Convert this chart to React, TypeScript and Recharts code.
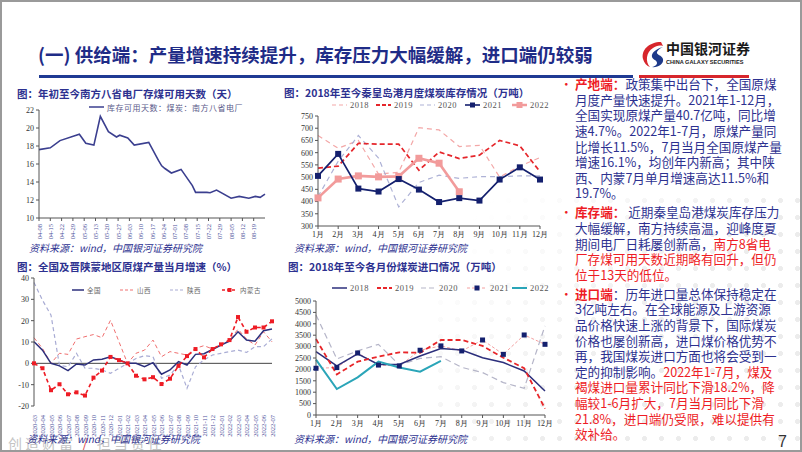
import React from "react";
import { LineChart, Line, XAxis, YAxis, ReferenceLine } from "recharts";

const CJK = '"Noto Sans CJK SC", "Noto Sans", sans-serif';
const SERIF = '"Liberation Serif", "DejaVu Serif", serif';
const NAVY = "#2d3190";
const RED = "#ee1c25";

// 图1：南方八省电厂存煤可用天数（天），x = 距 04-08 的天数
const stockDayOffsets = [0, 7, 13, 25, 29, 34, 38, 43, 48, 50, 55, 59, 68, 74, 76, 78, 82, 88, 95, 97, 104, 106, 110, 119, 124, 130, 134, 137, 140];
const stockDays = [17.6, 17.8, 18.6, 19.3, 18.3, 18.1, 21.3, 19.6, 19.0, 19.2, 18.9, 18.1, 18.4, 16.4, 15.8, 15.5, 15.0, 15.4, 13.6, 12.85, 12.85, 12.8, 13.1, 12.2, 12.4, 12.2, 12.4, 12.3, 12.65];
const stockTickLabels = ["04-08", "04-15", "04-22", "04-29", "05-06", "05-13", "05-20", "05-27", "06-03", "06-10", "06-17", "06-24", "07-01", "07-08", "07-15", "07-22", "07-29", "08-05", "08-12", "08-19"];
const stockYTicks = [10, 12, 14, 16, 18, 20, 22];

// 图2：秦皇岛港月度煤炭库存（万吨）
const months = ["1月", "2月", "3月", "4月", "5月", "6月", "7月", "8月", "9月", "10月", "11月", "12月"];
const qhd2018 = [670, 618, 650, 512, 520, 702, 693, 625, 630, 500, 545, 580];
const qhd2019 = [537, 545, 638, 635, 635, 528, 603, 576, 590, 650, 628, 522];
const qhd2020 = [420, 565, 670, 578, 378, 478, 508, 495, 502, 502, 505, 505];
const qhd2021 = [505, 595, 453, 441, 492, 449, 398, 414, 404, 490, 540, 490];
const qhd2022 = [415, 492, 505, 501, 503, 577, 557, 440];
const qhdYTicks = [300, 350, 400, 450, 500, 550, 600, 650, 700, 750];

// 图3：原煤产量当月同比（%）
const prodMonths = ["2020-03", "2020-04", "2020-05", "2020-06", "2020-07", "2020-08", "2020-09", "2020-10", "2020-11", "2020-12", "2021-01", "2021-02", "2021-03", "2021-04", "2021-05", "2021-06", "2021-07", "2021-08", "2021-09", "2021-10", "2021-11", "2021-12", "2022-01", "2022-02", "2022-03", "2022-04", "2022-05", "2022-06", "2022-07"];
const prodNational = [10.1, 6.2, 0, -1.2, -3.4, -0.3, -0.8, 1.6, 1.9, 3.1, 1.6, 0, 0, -1.6, 0.3, -5.1, -3.1, 0.8, -0.8, 4.2, 4.5, 6.5, 8.6, 10.4, 14.8, 10.9, 10.4, 15.3, 16.1];
const prodShanxi = [12, 7, 0, 4.7, 4.2, 11.4, 12.5, 13.5, 12, 20.2, 10.1, 0, 4.7, 6.2, 10.9, 3.1, 5.5, 4.7, 3.9, 7, 8.3, 6.7, 8.6, 10.9, 16, 11.4, 8.6, 14.8, 10.1];
const prodShaanxi = [37.9, 29.6, 22.6, -1, -1.6, 4.7, -2.3, -2.3, -3.1, -4.7, -2.3, 0, 2.3, 3.6, 3.1, -7, -5.5, -0.8, -11.7, -1.6, 1.6, 3.9, 4.7, 5.5, 6.2, 5.1, 7.8, 7.8, 11.5];
const prodNeimeng = [0, -2.3, -12.6, -9.8, -14.5, -13.6, -15.1, -6.7, -3.4, 3, 1.5, 0, -5.8, -7.5, -6.5, -9.7, -7.2, -1.2, 3.4, 6.7, 2.8, 6.7, 8.9, 10.9, 21.7, 14.8, 16.8, 16.8, 19.7];
const prodYTicks = [-20, -10, 0, 10, 20, 30, 40];

// 图4：各月份煤炭进口（万吨）
const imp2018 = [2780, 2150, 2680, 2220, 2220, 2590, 2920, 2850, 2510, 2300, 1930, 1050];
const imp2019 = [3330, 1780, 2340, 2560, 2750, 2730, 3290, 3290, 3030, 2510, 2050, 280];
const imp2020 = [4390, 2460, 2810, 3100, 2190, 2480, 2560, 2090, 1860, 1420, 1170, 3910];
const imp2021 = [2050, 2080, 2720, 2190, 2150, 2840, 3030, 2810, 3290, 2660, 3510, 3100];
const imp2022 = [2430, 1140, 1650, 2340, 2080, 1900, 2370];
const impYTicks = [0, 500, 1000, 1500, 2000, 2500, 3000, 3500, 4000, 4500, 5000];

const stockData = stockDayOffsets.map((d, i) => ({ d, v: stockDays[i] }));
const qhdData = months.map((m, i) => ({
  m, a: qhd2018[i], b: qhd2019[i], c: qhd2020[i], d: qhd2021[i], e: qhd2022[i] ?? null,
}));
const prodData = prodMonths.map((m, i) => ({
  m, nat: prodNational[i], sx: prodShanxi[i], snx: prodShaanxi[i], nm: prodNeimeng[i],
}));
const impData = months.map((m, i) => ({
  m, a: imp2018[i], b: imp2019[i], c: imp2020[i], d: imp2021[i], e: imp2022[i] ?? null,
}));

const tickStyle = { fontSize: 8, fill: "#333", fontFamily: SERIF };

const squareDot = (size: number, fill: string) => (props: any) => {
  const { cx, cy, index, value } = props;
  if (cx == null || cy == null || value == null) return <g key={index} />;
  return <rect key={index} x={cx - size / 2} y={cy - size / 2} width={size} height={size} fill={fill} />;
};

const VTick = (labelOf: (v: any) => string) => (props: any) => {
  const { x, y, payload } = props;
  return (
    <text
      x={x} y={y + 1} transform={`rotate(-90 ${x} ${y + 1})`}
      textAnchor="end" dominantBaseline="central"
      fontSize={6.5} fill="#4b4f9a" fontFamily={SERIF}
    >
      {labelOf(payload.value)}
    </text>
  );
};

function LegendItem({ x, y, label, color, dash, width = 1.5, marker, len = 15, fontSize = 8.5, font = SERIF, textColor = "#555" }: any) {
  return (
    <div style={{ position: "absolute", left: x, top: y - 6, height: 12, display: "flex", alignItems: "center", whiteSpace: "nowrap" }}>
      <svg width={len} height={8} style={{ marginRight: 3 }}>
        <line x1={0} y1={4} x2={len} y2={4} stroke={color} strokeWidth={width} strokeDasharray={dash} />
        {marker && <rect x={len / 2 - marker.size / 2} y={4 - marker.size / 2} width={marker.size} height={marker.size} fill={marker.fill} />}
      </svg>
      <span style={{ fontSize, fontFamily: font, color: textColor, letterSpacing: 0.5 }}>{label}</span>
    </div>
  );
}

function Title({ x, y, children }: any) {
  return (
    <div style={{ position: "absolute", left: x, top: y - 7, lineHeight: "14px", fontSize: 10.5, fontWeight: 700, color: NAVY, whiteSpace: "nowrap" }}>
      {children}
    </div>
  );
}

function Source({ x, y }: any) {
  return (
    <div style={{ position: "absolute", left: x, top: y - 7, lineHeight: "14px", fontSize: 10, fontStyle: "italic", color: NAVY, whiteSpace: "nowrap" }}>
      资料来源：wind，中国银河证券研究院
    </div>
  );
}

type Seg = { t: string; c?: "red" | "label" };

const paraSupply: Seg[][] = [
  [{ t: "产地端：", c: "label" }, { t: "政策集中出台下，全国原煤" }],
  [{ t: "月度产量快速提升。2021年1-12月，" }],
  [{ t: "全国实现原煤产量40.7亿吨，同比增" }],
  [{ t: "速4.7%。2022年1-7月，原煤产量同" }],
  [{ t: "比增长11.5%，7月当月全国原煤产量" }],
  [{ t: "增速16.1%，均创年内新高；其中陕" }],
  [{ t: "西、内蒙7月单月增速高达11.5%和" }],
  [{ t: "19.7%。" }],
];
const paraStock: Seg[][] = [
  [{ t: "库存端：", c: "label" }, { t: " 近期秦皇岛港煤炭库存压力" }],
  [{ t: "大幅缓解，南方持续高温，迎峰度夏" }],
  [{ t: "期间电厂日耗屡创新高，" }, { t: "南方8省电", c: "red" }],
  [{ t: "厂存煤可用天数近期略有回升，但仍", c: "red" }],
  [{ t: "位于13天的低位。", c: "red" }],
];
const paraImport: Seg[][] = [
  [{ t: "进口端", c: "label" }, { t: "：历年进口量总体保持稳定在" }],
  [{ t: "3亿吨左右。在全球能源及上游资源" }],
  [{ t: "品价格快速上涨的背景下，国际煤炭" }],
  [{ t: "价格也屡创新高，进口煤价格优势不" }],
  [{ t: "再，我国煤炭进口方面也将会受到一" }],
  [{ t: "定的抑制影响。" }, { t: "2022年1-7月，煤及", c: "red" }],
  [{ t: "褐煤进口量累计同比下滑18.2%，降", c: "red" }],
  [{ t: "幅较1-6月扩大，7月当月同比下滑", c: "red" }],
  [{ t: "21.8%，进口端仍受限，难以提供有", c: "red" }],
  [{ t: "效补给。", c: "red" }],
];

const LINE_H = 15.6;
const PARA_GAP = 19;

function Para({ lines, y }: { lines: Seg[][]; y: number }) {
  return (
    <div style={{ position: "absolute", left: 573, top: y - LINE_H / 2, fontSize: 12.6, lineHeight: `${LINE_H}px`, color: NAVY, whiteSpace: "nowrap" }}>
      <span style={{ position: "absolute", left: -15, top: 0, color: RED, fontSize: 12.6 }}>•</span>
      {lines.map((ln, i) => (
        <div key={i}>
          {ln.map((s, j) => (
            <span key={j} style={{ color: s.c ? RED : NAVY, fontWeight: s.c === "label" ? 700 : 400 }}>{s.t}</span>
          ))}
        </div>
      ))}
    </div>
  );
}

export default function App() {
  const y1 = 82;
  const y2 = y1 + (paraSupply.length - 1) * LINE_H + PARA_GAP;
  const y3 = y2 + (paraStock.length - 1) * LINE_H + PARA_GAP;
  return (
    <div style={{ position: "absolute", left: 0, top: 0, width: 802, height: 452, overflow: "hidden", background: "#fff", fontFamily: CJK, boxSizing: "border-box", border: "2px solid #9a9a9a" }}>
      {/* dotted background */}
      <div style={{
        position: "absolute", left: 430, top: 190, width: 372, height: 262,
        backgroundImage: "radial-gradient(circle, #ececec 2.2px, transparent 2.8px)",
        backgroundSize: "17px 17px",
        WebkitMaskImage: "linear-gradient(135deg, transparent 10%, #000 60%)",
        maskImage: "linear-gradient(135deg, transparent 10%, #000 60%)",
      }} />

      {/* header */}
      <div style={{ position: "absolute", left: 36, top: 40, lineHeight: "24px", fontSize: 18.5, fontWeight: 700, color: "#1f2c87", whiteSpace: "nowrap" }}>
        (一) 供给端：产量增速持续提升，库存压力大幅缓解，进口端仍较弱
      </div>
      <div style={{ position: "absolute", left: 37, top: 73, width: 594, height: 3, background: "#1f3a93" }} />
      <div style={{ position: "absolute", left: 637, top: 73, width: 110, height: 3, background: "#d7262c" }} />
      <svg style={{ position: "absolute", left: 638, top: 38 }} width={26} height={28} viewBox="0 0 26 28">
        <path d="M21 2 C9 2 1 10 3 19 C4 23 7 26 10 27 C5 22 6 12 13 8 C16 6 19 5 23 6 Z" fill="#d7262c" />
        <path d="M23 7 C16 9 11 13 12 17 C13 20 17 20 17 23 C17 25 14 27 11 27 C18 28 24 24 23 19 C22 15 16 15 17 12 C18 10 20 8 23 7 Z" fill="#1e3a8a" />
      </svg>
      <div style={{ position: "absolute", left: 664, top: 38, lineHeight: "17px", fontSize: 14, fontWeight: 700, color: "#1a1a1a", whiteSpace: "nowrap" }}>中国银河证券</div>
      <div style={{ position: "absolute", left: 664, top: 56, lineHeight: "8px", fontSize: 5.6, fontWeight: 700, fontFamily: '"Liberation Sans", sans-serif', color: "#1a1a1a", whiteSpace: "nowrap" }}>CHINA GALAXY SECURITIES</div>

      {/* chart 1 */}
      <Title x={15} y={92}>图：年初至今南方八省电厂存煤可用天数（天）</Title>
      <LegendItem x={87} y={105} label="库存可用天数：煤炭：南方八省电厂" color="#3b3f8f" width={1.5} len={15} fontSize={8} font={CJK} textColor="#5a5a8a" />
      <div style={{ position: "absolute", left: 0, top: 94 }}>
        <LineChart width={270} height={152} data={stockData} margin={{ top: 14, right: 7, left: 7, bottom: 0 }}>
          <XAxis
            type="number" dataKey="d" domain={[0, 140]}
            ticks={stockTickLabels.map((_, i) => i * 7)}
            interval={0} height={30} tickSize={3}
            stroke="#555" tick={VTick((v) => stockTickLabels[v / 7])}
          />
          <YAxis domain={[10, 22]} ticks={stockYTicks} width={30} tickSize={3} stroke="#555" tick={tickStyle} interval={0} />
          <Line type="linear" dataKey="v" stroke="#3b3f8f" strokeWidth={1.6} dot={false} activeDot={false} isAnimationActive={false} />
        </LineChart>
      </div>
      <Source x={27} y={246} />

      {/* chart 2 */}
      <Title x={282} y={91}>图：2018年至今秦皇岛港月度煤炭库存情况（万吨）</Title>
      <LegendItem x={330} y={103} label="2018" color="#f3a7a7" dash="4 3" width={1.2} />
      <LegendItem x={374} y={103} label="2019" color="#e5262b" dash="4 2" width={1.8} />
      <LegendItem x={418} y={103} label="2020" color="#aeb2d6" dash="4 3" width={1.2} />
      <LegendItem x={463} y={103} label="2021" color="#14206e" width={1.6} marker={{ size: 5, fill: "#14206e" }} />
      <LegendItem x={510} y={103} label="2022" color="#f29b9b" width={2.5} marker={{ size: 6, fill: "#f29b9b" }} />
      <div style={{ position: "absolute", left: 280, top: 100 }}>
        <LineChart width={270} height={140} data={qhdData} margin={{ top: 14, right: 12, left: 8, bottom: 0 }}>
          <XAxis dataKey="m" interval={0} height={16} tickSize={3} stroke="#555" tick={tickStyle} />
          <YAxis domain={[300, 750]} ticks={qhdYTicks} width={28} tickSize={3} stroke="#555" tick={tickStyle} interval={0} />
          <Line dataKey="a" type="linear" stroke="#f3a7a7" strokeWidth={1.2} strokeDasharray="5 4" dot={false} activeDot={false} isAnimationActive={false} />
          <Line dataKey="c" type="linear" stroke="#aeb2d6" strokeWidth={1.2} strokeDasharray="5 4" dot={false} activeDot={false} isAnimationActive={false} />
          <Line dataKey="b" type="linear" stroke="#e5262b" strokeWidth={1.7} strokeDasharray="5 3" dot={false} activeDot={false} isAnimationActive={false} />
          <Line dataKey="e" type="linear" stroke="#f29b9b" strokeWidth={2.6} dot={squareDot(7, "#f29b9b")} activeDot={false} isAnimationActive={false} />
          <Line dataKey="d" type="linear" stroke="#14206e" strokeWidth={1.7} dot={squareDot(6, "#14206e")} activeDot={false} isAnimationActive={false} />
        </LineChart>
      </div>
      <Source x={292} y={246} />

      {/* chart 3 */}
      <Title x={15} y={265}>图：全国及晋陕蒙地区原煤产量当月增速（%）</Title>
      <LegendItem x={70} y={288} label="全国" color="#2c2f7c" width={1.5} len={12} fontSize={6.5} font={CJK} textColor="#666" />
      <LegendItem x={118} y={288} label="山西" color="#f07070" dash="3 2" width={1} len={14} fontSize={6.5} font={CJK} textColor="#666" />
      <LegendItem x={168} y={288} label="陕西" color="#a9acd4" dash="3 2" width={1.2} len={14} fontSize={6.5} font={CJK} textColor="#666" />
      <LegendItem x={220} y={288} label="内蒙古" color={RED} dash="3 2" width={1.5} len={15} marker={{ size: 4, fill: RED }} fontSize={6.5} font={CJK} textColor="#666" />
      <div style={{ position: "absolute", left: 0, top: 266 }}>
        <LineChart width={275} height={170} data={prodData} margin={{ top: 10, right: 5, left: 6, bottom: 0 }}>
          <XAxis dataKey="m" interval={0} height={32} axisLine={false} tickLine={false} tick={VTick((v) => v)} />
          <YAxis domain={[-20, 40]} ticks={prodYTicks} width={26} tickSize={3} stroke="#555" tick={tickStyle} interval={0} />
          <ReferenceLine y={0} stroke="#444" strokeWidth={1} />
          <Line dataKey="snx" type="linear" stroke="#a9acd4" strokeWidth={1.2} strokeDasharray="4 3" dot={false} activeDot={false} isAnimationActive={false} />
          <Line dataKey="sx" type="linear" stroke="#f07070" strokeWidth={1} strokeDasharray="4 3" dot={false} activeDot={false} isAnimationActive={false} />
          <Line dataKey="nat" type="linear" stroke="#2c2f7c" strokeWidth={1.5} dot={false} activeDot={false} isAnimationActive={false} />
          <Line dataKey="nm" type="linear" stroke={RED} strokeWidth={1.6} strokeDasharray="4 3" dot={squareDot(4, RED)} activeDot={false} isAnimationActive={false} />
        </LineChart>
      </div>

      {/* chart 4 */}
      <Title x={286} y={265}>图：2018年至今各月份煤炭进口情况（万吨）</Title>
      <LegendItem x={330} y={286} label="2018" color="#2c2f7c" width={1.5} />
      <LegendItem x={375} y={286} label="2019" color="#e8262a" dash="4 2" width={1.8} />
      <LegendItem x={419} y={286} label="2020" color="#b5b5c8" dash="5 3" width={1.2} />
      <LegendItem x={465} y={286} label="2021" color="#f4a0a0" dash="3 2" width={1} len={20} marker={{ size: 5, fill: "#14206e" }} />
      <LegendItem x={510} y={286} label="2022" color="#2aa5b8" width={2} />
      <div style={{ position: "absolute", left: 280, top: 290 }}>
        <LineChart width={273} height={139} data={impData} margin={{ top: 9, right: 10, left: 8, bottom: 0 }}>
          <XAxis dataKey="m" interval={0} height={16} tickSize={3} stroke="#555" tick={tickStyle} />
          <YAxis domain={[0, 5000]} ticks={impYTicks} width={26} tickSize={3} stroke="#555" tick={tickStyle} interval={0} />
          <Line dataKey="c" type="linear" stroke="#b5b5c8" strokeWidth={1.2} strokeDasharray="6 4" dot={false} activeDot={false} isAnimationActive={false} />
          <Line dataKey="d" type="linear" stroke="#f4a0a0" strokeWidth={1} strokeDasharray="3 2" dot={squareDot(5, "#14206e")} activeDot={false} isAnimationActive={false} />
          <Line dataKey="a" type="linear" stroke="#2c2f7c" strokeWidth={1.5} dot={false} activeDot={false} isAnimationActive={false} />
          <Line dataKey="b" type="linear" stroke="#e8262a" strokeWidth={1.8} strokeDasharray="5 3" dot={false} activeDot={false} isAnimationActive={false} />
          <Line dataKey="e" type="linear" stroke="#2aa5b8" strokeWidth={2} dot={false} activeDot={false} isAnimationActive={false} />
        </LineChart>
      </div>
      <Source x={292} y={437} />

      {/* right text */}
      <Para lines={paraSupply} y={y1} />
      <Para lines={paraStock} y={y2} />
      <Para lines={paraImport} y={y3} />

      {/* footer */}
      <div style={{ position: "absolute", left: 6, top: 432, lineHeight: "18px", fontSize: 14, color: "#c4c4c4", letterSpacing: 3, whiteSpace: "nowrap" }}>
        创造财富 <span style={{ color: "#e05050" }}>/</span> 担当责任
      </div>
      <Source x={25} y={437} />
      <div style={{ position: "absolute", left: 776, top: 430, lineHeight: "20px", fontSize: 16, color: "#333", fontFamily: '"Liberation Sans", sans-serif' }}>7</div>
    </div>
  );
}
